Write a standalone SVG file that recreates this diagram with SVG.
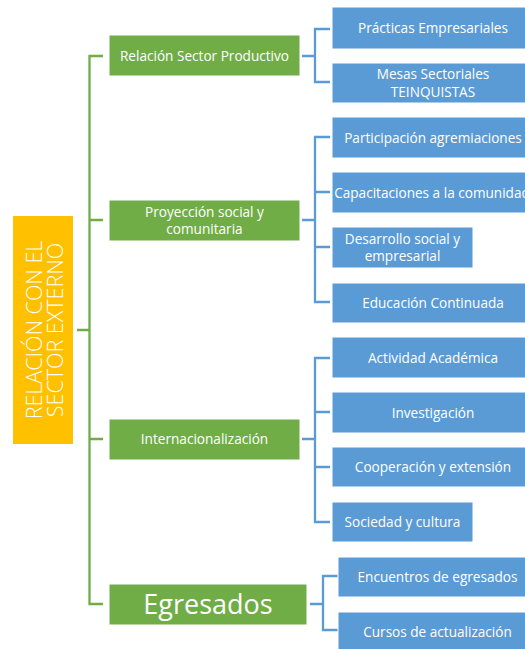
<svg xmlns="http://www.w3.org/2000/svg" width="525" height="649" viewBox="0 0 525 649">
<style>
.g{fill:#70AD47;stroke:#fff;stroke-width:1}
.b{fill:#5B9BD5;stroke:#fff;stroke-width:1}
.y{fill:#FFC000}
.t{font-family:"Open Sans","Noto Sans",sans-serif;font-size:13.6px;fill:#fff;text-anchor:middle}
.gl{fill:none;stroke:#70AD47;stroke-width:2.3}
.bl{fill:none;stroke:#5B9BD5;stroke-width:2.3}
</style>
<rect width="525" height="649" fill="#fff"/>
<g id="connectors">
<path class="gl" d="M77 330H89.5M103 56H89.5V604H103M89.5 220H103M89.5 439H103"/>
<path class="bl" d="M302 56H315M330 29H315V82H330"/>
<path class="bl" d="M302 220H315M330 137H315V302H330M315 192H330M315 247H330"/>
<path class="bl" d="M302 439H315M330 358H315V522H330M315 412H330M315 467H330"/>
<path class="bl" d="M310 604H323M338 576H323V630H338"/>
</g>
<g id="root">
<rect class="y" x="13" y="216" width="60" height="228"/>
<text font-family="'Open Sans','Noto Sans',sans-serif" font-size="21.5" font-weight="300" fill="#fff" text-anchor="middle" transform="rotate(-90)"><tspan x="-330" y="41.5">RELACIÓN CON EL</tspan><tspan x="-330" y="63">SECTOR EXTERNO</tspan></text>
</g>
<g id="n-relacion">
<rect class="g" x="109" y="35" width="191" height="41"/>
<text class="t" x="204.5" y="60.5">Relación Sector Productivo</text>
</g>
<g id="n-proyeccion">
<rect class="g" x="109" y="200" width="191" height="41"/>
<text class="t"><tspan x="204.5" y="216.5">Proyección social y</tspan><tspan x="204.5" y="234">comunitaria</tspan></text>
</g>
<g id="n-internacionalizacion">
<rect class="g" x="109" y="419" width="191" height="41"/>
<text class="t" x="204.5" y="444">Internacionalización</text>
</g>
<g id="n-egresados">
<rect class="g" x="109" y="584" width="198" height="41"/>
<text class="t" x="208" y="614" style="font-size:27px">Egresados</text>
</g>
<g id="n-practicas">
<rect class="b" x="332" y="7" width="202" height="42"/>
<text class="t" x="433" y="33">Prácticas Empresariales</text>
</g>
<g id="n-mesas">
<rect class="b" x="332" y="63" width="202" height="40"/>
<text class="t"><tspan x="433" y="79">Mesas Sectoriales</tspan><tspan x="433" y="96.5">TEINQUISTAS</tspan></text>
</g>
<g id="n-participacion">
<rect class="b" x="332" y="117" width="202" height="41"/>
<text class="t" x="433" y="142.5">Participación agremiaciones</text>
</g>
<g id="n-capacitaciones">
<rect class="b" x="332" y="172" width="202" height="41"/>
<text class="t" x="432" y="197.5">Capacitaciones a la comunidad</text>
</g>
<g id="n-desarrollo">
<rect class="b" x="332" y="227" width="141" height="41"/>
<text class="t"><tspan x="402.5" y="243.5">Desarrollo social y</tspan><tspan x="402.5" y="261">empresarial</tspan></text>
</g>
<g id="n-educacion">
<rect class="b" x="332" y="283" width="202" height="40"/>
<text class="t" x="433" y="307.5">Educación Continuada</text>
</g>
<g id="n-actividad">
<rect class="b" x="332" y="337" width="202" height="41"/>
<text class="t" x="433" y="362.5">Actividad Académica</text>
</g>
<g id="n-investigacion">
<rect class="b" x="332" y="392" width="202" height="41"/>
<text class="t" x="433" y="417.5">Investigación</text>
</g>
<g id="n-cooperacion">
<rect class="b" x="332" y="447" width="202" height="40"/>
<text class="t" x="433" y="471.5">Cooperación y extensión</text>
</g>
<g id="n-sociedad">
<rect class="b" x="332" y="502" width="141" height="40"/>
<text class="t" x="402.5" y="526.5">Sociedad y cultura</text>
</g>
<g id="n-encuentros">
<rect class="b" x="338" y="557" width="199" height="40"/>
<text class="t" x="437.5" y="581.5">Encuentros de egresados</text>
</g>
<g id="n-cursos">
<rect class="b" x="338" y="612" width="199" height="41"/>
<text class="t" x="437.5" y="636.5">Cursos de actualización</text>
</g>
</svg>
